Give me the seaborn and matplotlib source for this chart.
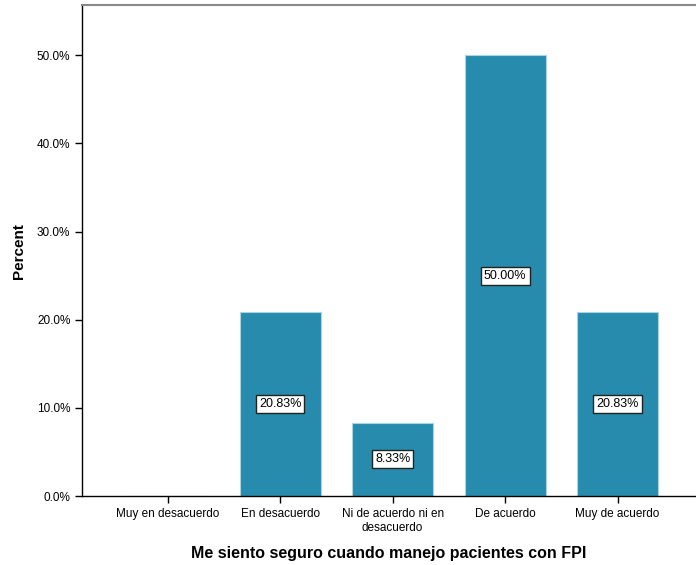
import numpy as np
import pandas as pd
import matplotlib
matplotlib.use('Agg')
import matplotlib.pyplot as plt
import seaborn as sns
from matplotlib.ticker import FuncFormatter

# Datos
categorias = ['Muy en desacuerdo', 'En desacuerdo', 'Ni de acuerdo ni en\ndesacuerdo',
              'De acuerdo', 'Muy de acuerdo']
porcentajes = [0.0, 20.83, 8.33, 50.00, 20.83]

df = pd.DataFrame({'cat': categorias, 'pct': porcentajes})

sns.set_style('white')
plt.rcParams['font.family'] = ['Liberation Sans', 'DejaVu Sans']
plt.rcParams['text.color'] = 'black'
plt.rcParams['axes.labelcolor'] = 'black'
plt.rcParams['xtick.color'] = 'black'
plt.rcParams['ytick.color'] = 'black'

fig = plt.figure(figsize=(6.96, 5.65), dpi=100)
ax = fig.add_axes([0.118, 0.122, 0.881, 0.869])

sns.barplot(data=df, x='cat', y='pct', color='#268BAD', saturation=1,
            width=0.72, edgecolor='#A8D4E4', linewidth=0.8, ax=ax)

# Etiquetas en el centro de las barras
for i, v in enumerate(porcentajes):
    if v > 0:
        ax.text(i, v / 2, f'{v:.2f}%', ha='center', va='center', fontsize=9,
                color='black',
                bbox=dict(boxstyle='square,pad=0.25', fc='white', ec='#222222', lw=1))

ax.set_xlim(-0.76, 4.69)
ax.set_ylim(0, 55.7)
ax.set_yticks([0, 10, 20, 30, 40, 50])
ax.yaxis.set_major_formatter(FuncFormatter(lambda v, p: f'{v:.1f}%'))

ax.tick_params(axis='both', labelsize=8.5, length=5, width=1, color='black',
               labelcolor='black', direction='out', left=True, bottom=True)

ax.set_xlabel('Me siento seguro cuando manejo pacientes con FPI', fontsize=11.5,
              fontweight='bold', labelpad=9, color='black')
ax.set_ylabel('Percent', fontsize=11, fontweight='bold', labelpad=8, color='black')

for s in ['left', 'bottom']:
    ax.spines[s].set_color('black')
    ax.spines[s].set_linewidth(1)
ax.spines['top'].set_color('#888888')
ax.spines['top'].set_linewidth(1.5)
ax.spines['right'].set_visible(False)

plt.savefig('out.png', dpi=100)
